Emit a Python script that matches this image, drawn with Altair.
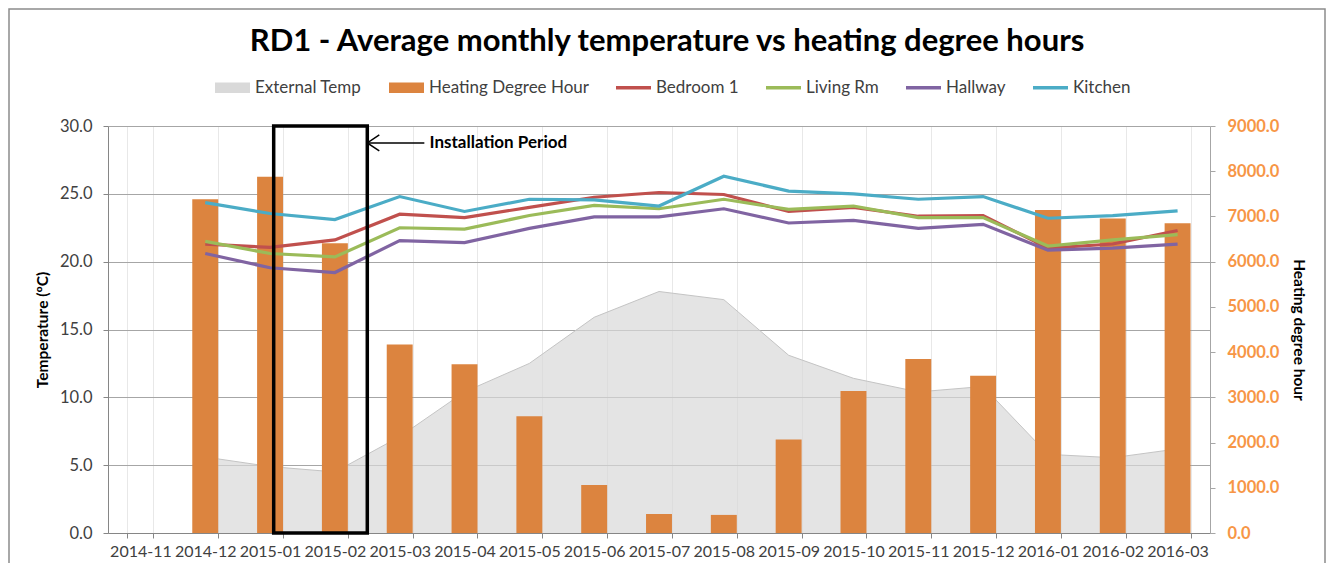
import altair as alt
import pandas as pd

FONT = "Lato"

months = ["2014-11", "2014-12", "2015-01", "2015-02", "2015-03", "2015-04",
          "2015-05", "2015-06", "2015-07", "2015-08", "2015-09", "2015-10",
          "2015-11", "2015-12", "2016-01", "2016-02", "2016-03"]
heating_degree_hour = [None, 7380, 7880, 6410, 4170, 3730, 2580, 1060, 420, 400,
                       2065, 3140, 3850, 3480, 7145, 6955, 6850]
external_temp = [None, 5.6, 4.9, 4.5, 7.1, 10.4, 12.5, 15.9, 17.8, 17.2,
                 13.1, 11.4, 10.4, 10.8, 5.8, 5.55, 6.2]
bedroom_1 = [None, 21.3, 21.05, 21.6, 23.5, 23.25, 24.0, 24.75, 25.1, 24.95,
             23.7, 24.0, 23.35, 23.4, 21.0, 21.3, 22.3]
living_rm = [None, 21.5, 20.6, 20.35, 22.5, 22.4, 23.4, 24.15, 23.9, 24.6,
             23.85, 24.1, 23.25, 23.25, 21.15, 21.6, 22.0]
hallway = [None, 20.6, 19.55, 19.2, 21.55, 21.4, 22.45, 23.3, 23.3, 23.9,
           22.85, 23.05, 22.45, 22.75, 20.85, 21.0, 21.3]
kitchen = [None, 24.35, 23.55, 23.1, 24.8, 23.7, 24.6, 24.55, 24.1, 26.3,
           25.2, 25.0, 24.6, 24.8, 23.2, 23.4, 23.75]

line_series = ["Bedroom 1", "Living Rm", "Hallway", "Kitchen"]
line_colors = ["#C0504D", "#9BBB59", "#8064A2", "#4BACC6"]
legend_series = ["External Temp", "Heating Degree Hour"] + line_series
area_color = "#D9D9D9"
bar_color = "#DC843F"
legend_colors = [area_color, bar_color] + line_colors
rect_path = "M-1,-0.3H1V0.3H-1Z"
line_path = "M-1,-0.1H1V0.1H-1Z"
legend_shapes = [rect_path, rect_path, line_path, line_path, line_path, line_path]

# annotation (installation period box), in category-index units
install_box_x = [2.556, 4.0]
install_box_y = [0, 30]
arrow_x = [4.0, 4.88]
arrow_y = 28.75
label_x = 4.96
label_text = "Installation Period"

df_main = pd.DataFrame({"month": months, "hdh": heating_degree_hour, "ext": external_temp})
rows = []
for name, vals in zip(line_series, [bedroom_1, living_rm, hallway, kitchen]):
    for m, v in zip(months, vals):
        rows.append({"month": m, "series": name, "temp": v})
df_lines = pd.DataFrame(rows)

x_band = alt.Scale(domain=months, paddingInner=0.6, paddingOuter=0.3)
temp_scale = alt.Scale(domain=[0, 30], nice=False, zero=True)
hdh_scale = alt.Scale(domain=[0, 9000], nice=False)
idx_scale = alt.Scale(domain=[0, len(months)], nice=False, zero=False)

# chart frame (decoration, like the spreadsheet chart border)
frame = alt.Chart(pd.DataFrame({"f": [0]})).mark_rect(
    fill="transparent", stroke="#8C8C8C", strokeWidth=1.5
).encode(
    x=alt.value(-99), x2=alt.value(1217), y=alt.value(-117), y2=alt.value(480)
)

area = alt.Chart(df_main).mark_area(
    color=area_color, line={"color": "#C4C4C4", "strokeWidth": 1}
).encode(
    x=alt.X("month:N", scale=x_band, sort=months,
            axis=alt.Axis(title=None, labelAngle=0, tickBand="extent", grid=True,
                          gridColor="#E8E8E8", tickSize=5, tickColor="#868686",
                          domainColor="#868686", labelFontSize=16, labelFont=FONT,
                          labelColor="#404040", labelPadding=5)),
    y=alt.Y("ext:Q", scale=temp_scale,
            axis=alt.Axis(title="Temperature (ºC)", format=".1f",
                          values=[0, 5, 10, 15, 20, 25, 30], grid=True,
                          gridColor="#A6A6A6", tickSize=5, tickColor="#868686",
                          domainColor="#868686", labelFontSize=16.5, labelFont=FONT,
                          labelColor="#404040", labelPadding=11,
                          titleFont=FONT, titleFontSize=15.5, titleFontWeight="bold",
                          titleColor="black", titlePadding=9)),
)

bars = alt.Chart(df_main).mark_bar(color=bar_color).encode(
    x=alt.X("month:N", scale=x_band, sort=months, axis=None),
    y=alt.Y("hdh:Q", scale=hdh_scale,
            axis=alt.Axis(orient="right", title="Heating degree hour", format=".1f",
                          values=list(range(0, 9001, 1000)), grid=False,
                          tickSize=5, tickColor="#A6A6A6", domainColor="#A6A6A6",
                          labelFontSize=16.5, labelFont=FONT, labelColor="#F79646",
                          labelFontWeight="bold", labelPadding=12,
                          titleFont=FONT, titleFontSize=15.5, titleFontWeight="bold",
                          titleColor="black", titlePadding=12)),
)

lines = alt.Chart(df_lines).mark_line(strokeWidth=3.2).encode(
    x=alt.X("month:N", scale=x_band, sort=months, axis=None),
    y=alt.Y("temp:Q", scale=temp_scale, axis=None),
    color=alt.Color("series:N", scale=alt.Scale(domain=line_series, range=line_colors),
                    legend=None),
    detail="series:N",
)

ann_box = pd.DataFrame({"x0": [install_box_x[0]], "x1": [install_box_x[1]],
                        "y0": [install_box_y[0]], "y1": [install_box_y[1]]})
ann_arrow = pd.DataFrame({"x0": [arrow_x[0]], "x1": [arrow_x[1]], "y": [arrow_y],
                          "tx": [label_x], "label": [label_text]})

box = alt.Chart(ann_box).mark_rect(fill="transparent", stroke="black", strokeWidth=3.5).encode(
    x=alt.X("x0:Q", scale=idx_scale, axis=None), x2="x1:Q",
    y=alt.Y("y0:Q", scale=temp_scale, axis=None), y2="y1:Q",
)
arrow = alt.Chart(ann_arrow).mark_rule(color="black", strokeWidth=1.5).encode(
    x=alt.X("x0:Q", scale=idx_scale, axis=None), x2="x1:Q",
    y=alt.Y("y:Q", scale=temp_scale, axis=None),
)
head = alt.Chart(ann_arrow).mark_point(
    shape="M1.5,-1L0,0L1.5,1", filled=False, size=256, strokeWidth=1.5,
    color="black", opacity=1
).encode(
    x=alt.X("x0:Q", scale=idx_scale, axis=None),
    y=alt.Y("y:Q", scale=temp_scale, axis=None),
)
label = alt.Chart(ann_arrow).mark_text(
    align="left", baseline="middle", font=FONT, fontSize=17, fontWeight="bold", color="black"
).encode(
    x=alt.X("tx:Q", scale=idx_scale, axis=None),
    y=alt.Y("y:Q", scale=temp_scale, axis=None),
    text="label:N",
)
annotation = alt.layer(box, arrow, head, label)

legend_df = pd.DataFrame({"series": legend_series})
legend_layer = alt.Chart(legend_df).mark_point(filled=True, opacity=1).encode(
    color=alt.Color("series:N", scale=alt.Scale(domain=legend_series, range=legend_colors),
                    legend=alt.Legend(title=None)),
    shape=alt.Shape("series:N", scale=alt.Scale(domain=legend_series, range=legend_shapes),
                    legend=alt.Legend(title=None)),
).transform_filter("false")

chart = alt.layer(frame, area, bars, lines, annotation, legend_layer).resolve_scale(
    x="independent", y="independent", color="independent", shape="independent"
).properties(
    width=1102, height=407,
    title=alt.TitleParams("RD1 - Average monthly temperature vs heating degree hours",
                          font=FONT, fontSize=31, fontWeight="bold", color="black",
                          anchor="middle", offset=-50, dx=8),
    autosize=alt.AutoSizeParams(type="none"),
    padding={"left": 100, "top": 118, "right": 116, "bottom": 30},
).configure_view(stroke=None).configure_legend(
    orient="none", legendX=107, legendY=-56, direction="horizontal",
    symbolSize=1225, symbolStrokeWidth=0, labelFontSize=17, labelFont=FONT,
    labelColor="#404040", columnPadding=27, labelOffset=5, padding=0
)

chart.save("out.html", embed_options={"renderer": "svg", "actions": False})
